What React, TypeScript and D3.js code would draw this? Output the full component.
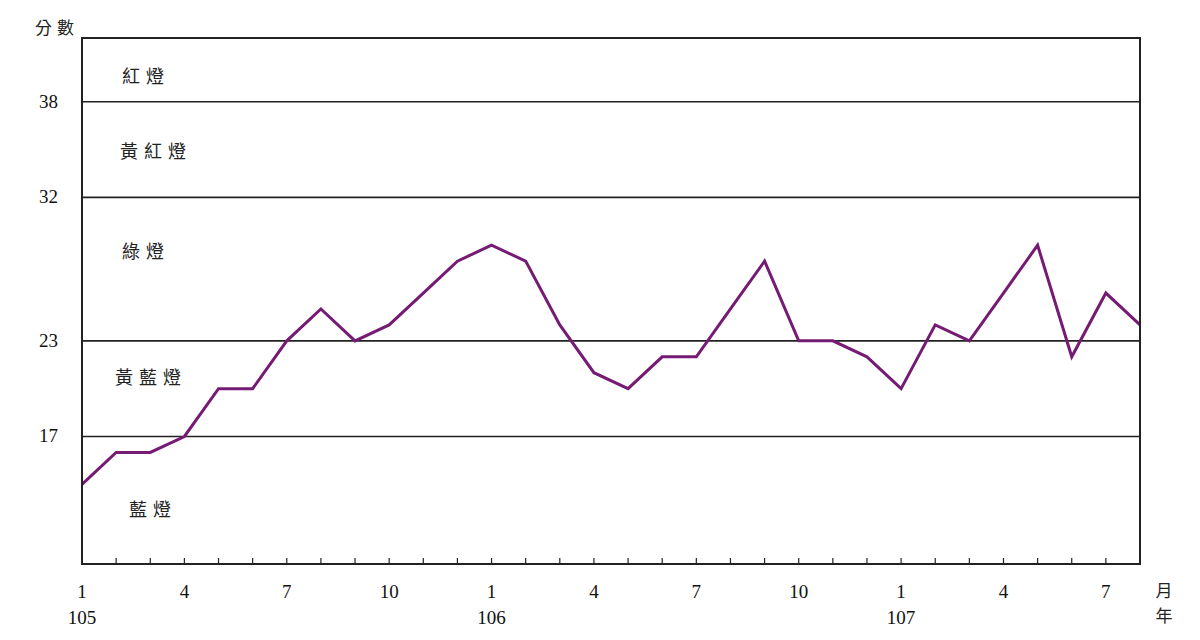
import React from "react";
import * as d3 from "d3";

const values: number[] = [
  14, 16, 16, 17, 20, 20, 23, 25, 23, 24, 26, 28,
  29, 28, 24, 21, 20, 22, 22, 25, 28, 23, 23, 22,
  20, 24, 23, 26, 29, 22, 26, 24,
];
const thresholds: number[] = [38, 32, 23, 17];
const zoneLabels = [
  { text: "紅燈", v: 39.7, x: 143 },
  { text: "黃紅燈", v: 35.0, x: 153 },
  { text: "綠燈", v: 28.7, x: 143 },
  { text: "黃藍燈", v: 20.8, x: 148 },
  { text: "藍燈", v: 12.5, x: 150 },
];
const monthTicks = [
  { i: 0, m: "1", y: "105" },
  { i: 3, m: "4" },
  { i: 6, m: "7" },
  { i: 9, m: "10" },
  { i: 12, m: "1", y: "106" },
  { i: 15, m: "4" },
  { i: 18, m: "7" },
  { i: 21, m: "10" },
  { i: 24, m: "1", y: "107" },
  { i: 27, m: "4" },
  { i: 30, m: "7" },
];

const L = 82, R = 1140, T = 38, B = 564;

export default function App() {
  const x = d3.scaleLinear().domain([0, values.length - 1]).range([L, R]);
  const y = d3.scaleLinear().domain([9, 42]).range([B, T]);
  const line = d3.line<number>().x((_, i) => x(i)).y((d) => y(d));
  const serif = "'Liberation Serif', 'Times New Roman', serif";
  const cjk = "'Noto Sans CJK TC', sans-serif";
  const ls = 6;
  return (
    <svg width={1200} height={640} style={{ position: "absolute", left: 0, top: 0, background: "#fff" }}>
      <rect x={0} y={0} width={1200} height={640} fill="#fff" />
      <text x={35} y={34} fontFamily={cjk} fontSize={17} letterSpacing={5} fill="#222">分數</text>
      {thresholds.map((t) => (
        <g key={t}>
          <line x1={L} x2={R} y1={y(t)} y2={y(t)} stroke="#222" strokeWidth={1.6} />
          <text x={58} y={y(t) + 6} textAnchor="end" fontFamily={serif} fontSize={19} fill="#111">{t}</text>
        </g>
      ))}
      {zoneLabels.map((z) => (
        <text key={z.text} x={z.x + ls / 2} y={y(z.v)} dominantBaseline="central" textAnchor="middle" fontFamily={cjk} fontSize={18} letterSpacing={ls} fill="#222">{z.text}</text>
      ))}
      {values.map((_, i) => (
        <line key={i} x1={x(i)} x2={x(i)} y1={B} y2={B - 6} stroke="#222" strokeWidth={1.2} />
      ))}
      <path d={line(values) || ""} fill="none" stroke="#761b74" strokeWidth={3} strokeLinejoin="miter" />
      <rect x={L} y={T} width={R - L} height={B - T} fill="none" stroke="#222" strokeWidth={2} />
      {monthTicks.map((t) => (
        <g key={t.i}>
          <text x={x(t.i)} y={598} textAnchor="middle" fontFamily={serif} fontSize={19} fill="#111">{t.m}</text>
          {t.y && <text x={x(t.i)} y={624} textAnchor="middle" fontFamily={serif} fontSize={19} fill="#111">{t.y}</text>}
        </g>
      ))}
      <text x={1164} y={597} textAnchor="middle" fontFamily={cjk} fontSize={17} fill="#222">月</text>
      <text x={1164} y={622} textAnchor="middle" fontFamily={cjk} fontSize={17} fill="#222">年</text>
    </svg>
  );
}
